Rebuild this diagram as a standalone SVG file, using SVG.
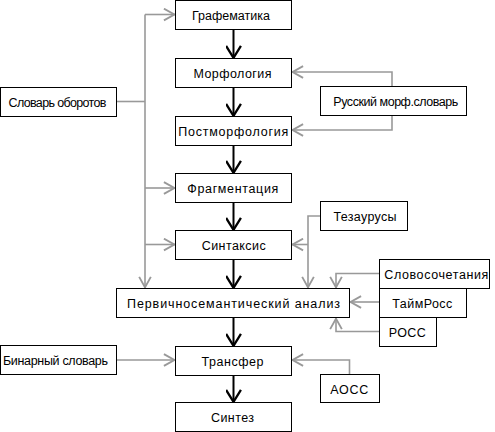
<svg xmlns="http://www.w3.org/2000/svg" width="495" height="432" viewBox="0 0 495 432">
<defs>
<style>
rect{fill:#fff;stroke:#000;stroke-width:1}
text{font-family:"Liberation Sans",Arial,sans-serif;font-size:12.5px;fill:#000;text-anchor:middle}
.b{fill:none;stroke:#000;stroke-width:2}
.g{fill:none;stroke:#999;stroke-width:1.6}
</style>
<marker id="ab" markerUnits="userSpaceOnUse" markerWidth="16" markerHeight="16" viewBox="0 0 14 14" refX="12" refY="7" orient="auto">
<path d="M1,0.5 L11.5,7 L1,13.5" fill="none" stroke="#000" stroke-width="2"/>
</marker>
<marker id="ag" markerUnits="userSpaceOnUse" markerWidth="14" markerHeight="14" viewBox="0 0 12 12" refX="10.5" refY="6" orient="auto">
<path d="M1,1 L10,6 L1,11" fill="none" stroke="#999" stroke-width="1.6"/>
</marker>
</defs>
<g id="connectors">
<path class="b" d="M233.5,29.5 V58.5" marker-end="url(#ab)"/>
<path class="b" d="M233.5,87.5 V116.5" marker-end="url(#ab)"/>
<path class="b" d="M233.5,145.5 V173.5" marker-end="url(#ab)"/>
<path class="b" d="M233.5,202.5 V230.5" marker-end="url(#ab)"/>
<path class="b" d="M233.5,259.5 V288.5" marker-end="url(#ab)"/>
<path class="b" d="M233.5,317.5 V346.5" marker-end="url(#ab)"/>
<path class="b" d="M233.5,375.5 V402.5" marker-end="url(#ab)"/>
<path class="g" d="M116.5,101.5 H145"/>
<path class="g" d="M145,14.5 V288" marker-end="url(#ag)"/>
<path class="g" d="M145,14.5 H175" marker-end="url(#ag)"/>
<path class="g" d="M145,188 H175" marker-end="url(#ag)"/>
<path class="g" d="M145,244.5 H175" marker-end="url(#ag)"/>
<path class="g" d="M392,86.5 V72 H292" marker-end="url(#ag)"/>
<path class="g" d="M392,115.5 V130 H292" marker-end="url(#ag)"/>
<path class="g" d="M320.5,216 H308 V288" marker-end="url(#ag)"/>
<path class="g" d="M308,244.5 H292" marker-end="url(#ag)"/>
<path class="g" d="M379.5,273.5 H336 V288" marker-end="url(#ag)"/>
<path class="g" d="M379.5,302 H350" marker-end="url(#ag)"/>
<path class="g" d="M379.5,331.5 H336 V318" marker-end="url(#ag)"/>
<path class="g" d="M116.5,360 H175" marker-end="url(#ag)"/>
<path class="g" d="M349.5,374.5 V360 H292" marker-end="url(#ag)"/>
</g>
<g id="grafematika"><rect x="175.5" y="0.5" width="116" height="29"/><text x="231" y="19.5" textLength="78" lengthAdjust="spacing">Графематика</text></g>
<g id="morfologiya"><rect x="175.5" y="58.5" width="116" height="29"/><text x="232.5" y="77.5" textLength="78" lengthAdjust="spacing">Морфология</text></g>
<g id="postmorfologiya"><rect x="175.5" y="116.5" width="116" height="29"/><text x="233.3" y="135.5" textLength="110" lengthAdjust="spacing">Постморфология</text></g>
<g id="fragmentaciya"><rect x="175.5" y="173.5" width="116" height="29"/><text x="232.8" y="192.5" textLength="91" lengthAdjust="spacing">Фрагментация</text></g>
<g id="sintaksis"><rect x="175.5" y="230.5" width="116" height="29"/><text x="233.7" y="249.5" textLength="64" lengthAdjust="spacing">Синтаксис</text></g>
<g id="pervichnosem"><rect x="116.5" y="288.5" width="233" height="29"/><text x="233.5" y="307.5" textLength="213" lengthAdjust="spacing">Первичносемантический анализ</text></g>
<g id="transfer"><rect x="175.5" y="346.5" width="116" height="29"/><text x="232.5" y="365.5" textLength="62" lengthAdjust="spacing">Трансфер</text></g>
<g id="sintez"><rect x="175.5" y="402.5" width="116" height="29"/><text x="232.5" y="421.5" textLength="43" lengthAdjust="spacing">Синтез</text></g>
<g id="slovar-oborotov"><rect x="0.5" y="87.5" width="116" height="29"/><text x="57.5" y="106.5" textLength="98" lengthAdjust="spacing">Словарь оборотов</text></g>
<g id="binarnyj"><rect x="0.5" y="345.5" width="116" height="29"/><text x="55.5" y="364.5" textLength="105" lengthAdjust="spacing">Бинарный словарь</text></g>
<g id="russkij-morf"><rect x="320.5" y="86.5" width="146" height="29"/><text x="395.8" y="105.5" textLength="125" lengthAdjust="spacing">Русский морф.словарь</text></g>
<g id="tezaurusy"><rect x="320.5" y="201.5" width="87" height="29"/><text x="365" y="220.5" textLength="63" lengthAdjust="spacing">Тезаурусы</text></g>
<g id="slovosochetaniya"><rect x="379.5" y="259.5" width="110" height="29"/><text x="436.3" y="278.5" textLength="104" lengthAdjust="spacing">Словосочетания</text></g>
<g id="tajmross"><rect x="379.5" y="288.5" width="87" height="29"/><text x="422.3" y="307.5" textLength="60" lengthAdjust="spacing">ТаймРосс</text></g>
<g id="ross"><rect x="379.5" y="317.5" width="57" height="29"/><text x="407.3" y="336.5" textLength="37" lengthAdjust="spacing">РОСС</text></g>
<g id="aoss"><rect x="320.5" y="374.5" width="59" height="28"/><text x="349.2" y="393.5" textLength="38" lengthAdjust="spacing">АОСС</text></g>
</svg>
